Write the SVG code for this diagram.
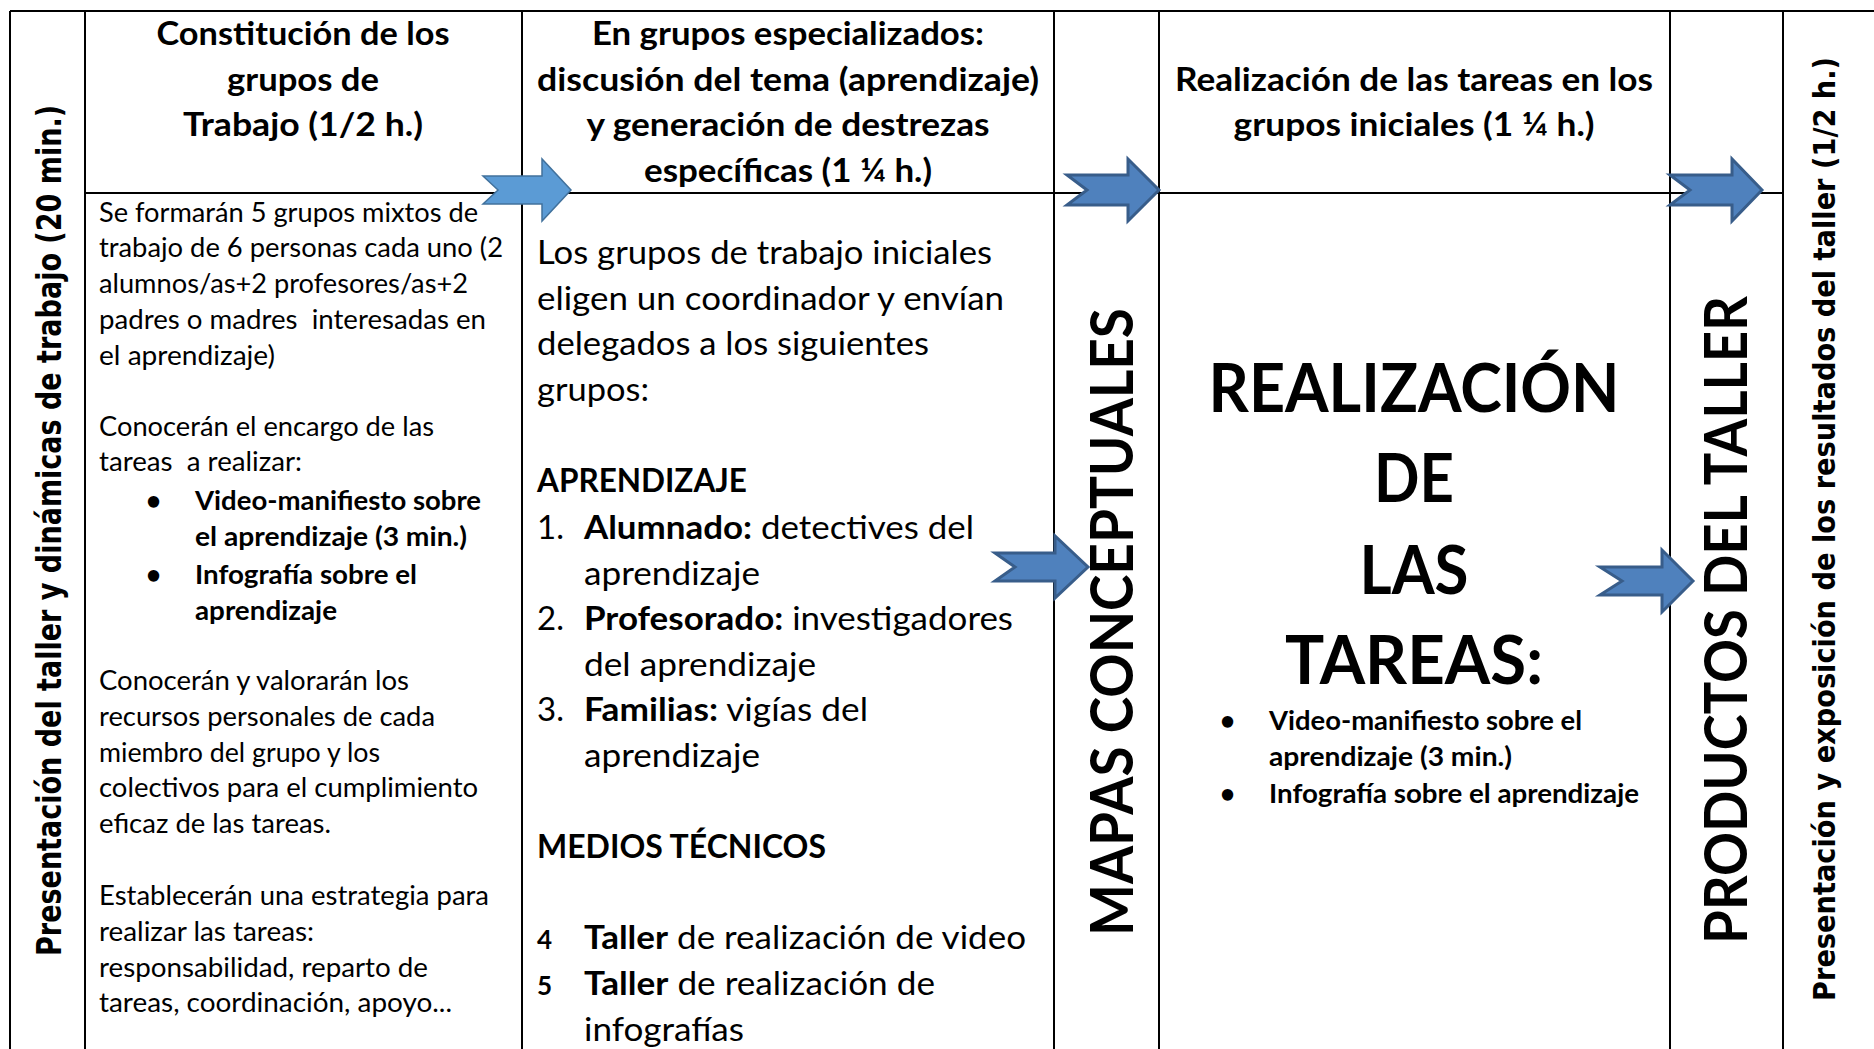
<svg xmlns="http://www.w3.org/2000/svg" width="1874" height="1049" viewBox="0 0 1874 1049">
<style>
.ln{stroke:#000;stroke-width:2;fill:none}
.t{font-family:Lato,"Liberation Sans",sans-serif;fill:#000}
.b{font-weight:bold}
.v{font-family:"DejaVu Sans Condensed","DejaVu Sans",Verdana,sans-serif;font-stretch:condensed;font-weight:bold;fill:#000;font-size:33px}
.v2{font-size:31px}
.s11{font-size:26px}
.s14{font-size:33px}
.s28{font-size:67px}
.s24{font-size:59px}
.arL{fill:#5B9BD5;stroke:#41719C;stroke-width:1.5}
.arD{fill:#4F81BD;stroke:#385D8A;stroke-width:3}
</style>
<rect width="1874" height="1049" fill="#fff"/>
<g id="grid">
<line class="ln" x1="10" y1="11" x2="1874" y2="11"/>
<line class="ln" x1="10" y1="11" x2="10" y2="1049"/>
<line class="ln" x1="85" y1="11" x2="85" y2="1049"/>
<line class="ln" x1="522" y1="11" x2="522" y2="1049"/>
<line class="ln" x1="1054" y1="11" x2="1054" y2="1049"/>
<line class="ln" x1="1159" y1="11" x2="1159" y2="1049"/>
<line class="ln" x1="1670" y1="11" x2="1670" y2="1049"/>
<line class="ln" x1="1783" y1="11" x2="1783" y2="1049"/>
<line class="ln" x1="85" y1="193" x2="1783" y2="193"/>
</g>
<g id="n-presentacion">
<text class="v" transform="translate(61,956) rotate(-90)" textLength="851" lengthAdjust="spacingAndGlyphs">Presentación del taller y dinámicas de trabajo (20 min.)</text>
</g>
<g id="n-constitucion">
<text class="t b s14" x="303" y="45" text-anchor="middle" textLength="293" lengthAdjust="spacingAndGlyphs">Constitución de los</text>
<text class="t b s14" x="303" y="90.5" text-anchor="middle" textLength="152" lengthAdjust="spacingAndGlyphs">grupos de</text>
<text class="t b s14" x="303" y="136" text-anchor="middle" textLength="240" lengthAdjust="spacingAndGlyphs">Trabajo (1/2 h.)</text>
<text class="t s11" x="99" y="221.5" textLength="379" lengthAdjust="spacingAndGlyphs">Se formarán 5 grupos mixtos de</text>
<text class="t s11" x="99" y="257.3" textLength="404" lengthAdjust="spacingAndGlyphs">trabajo de 6 personas cada uno (2</text>
<text class="t s11" x="99" y="293" textLength="369" lengthAdjust="spacingAndGlyphs">alumnos/as+2 profesores/as+2</text>
<text class="t s11" x="99" y="328.8" textLength="387" lengthAdjust="spacingAndGlyphs" xml:space="preserve">padres o madres  interesadas en</text>
<text class="t s11" x="99" y="364.6" textLength="176" lengthAdjust="spacingAndGlyphs">el aprendizaje)</text>
<text class="t s11" x="99" y="435.5" textLength="335" lengthAdjust="spacingAndGlyphs">Conocerán el encargo de las</text>
<text class="t s11" x="99" y="471.3" textLength="203" lengthAdjust="spacingAndGlyphs" xml:space="preserve">tareas  a realizar:</text>
<text class="t b s11" x="146" y="509.5">•</text>
<text class="t b s11" x="195" y="509.5" textLength="286" lengthAdjust="spacingAndGlyphs">Video-manifiesto sobre</text>
<text class="t b s11" x="195" y="545.5" textLength="272" lengthAdjust="spacingAndGlyphs">el aprendizaje (3 min.)</text>
<text class="t b s11" x="146" y="583.5">•</text>
<text class="t b s11" x="195" y="583.5" textLength="222" lengthAdjust="spacingAndGlyphs">Infografía sobre el</text>
<text class="t b s11" x="195" y="619.5" textLength="142" lengthAdjust="spacingAndGlyphs">aprendizaje</text>
<text class="t s11" x="99" y="690" textLength="310" lengthAdjust="spacingAndGlyphs">Conocerán y valorarán los</text>
<text class="t s11" x="99" y="725.8" textLength="336" lengthAdjust="spacingAndGlyphs">recursos personales de cada</text>
<text class="t s11" x="99" y="761.6" textLength="281" lengthAdjust="spacingAndGlyphs">miembro del grupo y los</text>
<text class="t s11" x="99" y="797.4" textLength="379" lengthAdjust="spacingAndGlyphs">colectivos para el cumplimiento</text>
<text class="t s11" x="99" y="833.2" textLength="232" lengthAdjust="spacingAndGlyphs">eficaz de las tareas.</text>
<text class="t s11" x="99" y="905" textLength="390" lengthAdjust="spacingAndGlyphs">Establecerán una estrategia para</text>
<text class="t s11" x="99" y="940.8" textLength="215" lengthAdjust="spacingAndGlyphs">realizar las tareas:</text>
<text class="t s11" x="99" y="976.6" textLength="329" lengthAdjust="spacingAndGlyphs">responsabilidad, reparto de</text>
<text class="t s11" x="99" y="1012.4" textLength="353" lengthAdjust="spacingAndGlyphs">tareas, coordinación, apoyo...</text>
</g>
<g id="n-especializados">
<text class="t b s14" x="788" y="45" text-anchor="middle" textLength="392" lengthAdjust="spacingAndGlyphs">En grupos especializados:</text>
<text class="t b s14" x="788" y="90.5" text-anchor="middle" textLength="502" lengthAdjust="spacingAndGlyphs">discusión del tema (aprendizaje)</text>
<text class="t b s14" x="788" y="136" text-anchor="middle" textLength="403" lengthAdjust="spacingAndGlyphs">y generación de destrezas</text>
<text class="t b s14" x="788" y="181.5" text-anchor="middle" textLength="288" lengthAdjust="spacingAndGlyphs">específicas (1 ¼ h.)</text>
<text class="t s14" x="537" y="264" textLength="455" lengthAdjust="spacingAndGlyphs">Los grupos de trabajo iniciales</text>
<text class="t s14" x="537" y="309.5" textLength="467" lengthAdjust="spacingAndGlyphs">eligen un coordinador y envían</text>
<text class="t s14" x="537" y="355" textLength="392" lengthAdjust="spacingAndGlyphs">delegados a los siguientes</text>
<text class="t s14" x="537" y="400.5" textLength="112" lengthAdjust="spacingAndGlyphs">grupos:</text>
<text class="t b s14" x="537" y="492" textLength="210" lengthAdjust="spacingAndGlyphs">APRENDIZAJE</text>
<text class="t s14" x="537" y="539">1.</text>
<text class="t s14" x="584" y="539" textLength="390" lengthAdjust="spacingAndGlyphs"><tspan class="b">Alumnado:</tspan> detectives del</text>
<text class="t s14" x="584" y="584.5" textLength="176" lengthAdjust="spacingAndGlyphs">aprendizaje</text>
<text class="t s14" x="537" y="630">2.</text>
<text class="t s14" x="584" y="630" textLength="429" lengthAdjust="spacingAndGlyphs"><tspan class="b">Profesorado:</tspan> investigadores</text>
<text class="t s14" x="584" y="675.5" textLength="232" lengthAdjust="spacingAndGlyphs">del aprendizaje</text>
<text class="t s14" x="537" y="721">3.</text>
<text class="t s14" x="584" y="721" textLength="284" lengthAdjust="spacingAndGlyphs"><tspan class="b">Familias:</tspan> vigías del</text>
<text class="t s14" x="584" y="766.5" textLength="176" lengthAdjust="spacingAndGlyphs">aprendizaje</text>
<text class="t b s14" x="537" y="858" textLength="289" lengthAdjust="spacingAndGlyphs">MEDIOS TÉCNICOS</text>
<text class="t b s11" x="537" y="949">4</text>
<text class="t s14" x="584" y="949" textLength="442" lengthAdjust="spacingAndGlyphs"><tspan class="b">Taller</tspan> de realización de video</text>
<text class="t b s11" x="537" y="995">5</text>
<text class="t s14" x="584" y="995" textLength="351" lengthAdjust="spacingAndGlyphs"><tspan class="b">Taller</tspan> de realización de</text>
<text class="t s14" x="584" y="1041" textLength="160" lengthAdjust="spacingAndGlyphs">infografías</text>
</g>
<g id="n-mapas">
<text class="t b s24" transform="translate(1133,936) rotate(-90)" textLength="628" lengthAdjust="spacingAndGlyphs">MAPAS CONCEPTUALES</text>
</g>
<g id="n-realizacion">
<text class="t b s14" x="1414" y="90.5" text-anchor="middle" textLength="478" lengthAdjust="spacingAndGlyphs">Realización de las tareas en los</text>
<text class="t b s14" x="1414" y="136" text-anchor="middle" textLength="361" lengthAdjust="spacingAndGlyphs">grupos iniciales (1 ¼ h.)</text>
<text class="t b s28" x="1414" y="412" text-anchor="middle" textLength="411" lengthAdjust="spacingAndGlyphs">REALIZACIÓN</text>
<text class="t b s28" x="1414" y="502" text-anchor="middle" textLength="80" lengthAdjust="spacingAndGlyphs">DE</text>
<text class="t b s28" x="1414" y="594" text-anchor="middle" textLength="109" lengthAdjust="spacingAndGlyphs">LAS</text>
<text class="t b s28" x="1414" y="684" text-anchor="middle" textLength="258" lengthAdjust="spacingAndGlyphs">TAREAS:</text>
<text class="t b s11" x="1220" y="730">•</text>
<text class="t b s11" x="1269" y="730" textLength="313" lengthAdjust="spacingAndGlyphs">Video-manifiesto sobre el</text>
<text class="t b s11" x="1269" y="766" textLength="243" lengthAdjust="spacingAndGlyphs">aprendizaje (3 min.)</text>
<text class="t b s11" x="1220" y="803">•</text>
<text class="t b s11" x="1269" y="803" textLength="370" lengthAdjust="spacingAndGlyphs">Infografía sobre el aprendizaje</text>
</g>
<g id="n-productos">
<text class="t b s24" transform="translate(1747,944) rotate(-90)" textLength="648" lengthAdjust="spacingAndGlyphs">PRODUCTOS DEL TALLER</text>
</g>
<g id="n-exposicion">
<text class="v v2" transform="translate(1835,1001) rotate(-90)" textLength="944" lengthAdjust="spacingAndGlyphs">Presentación y exposición de los resultados del taller (1/2 h.)</text>
</g>
<g id="connectors">
<polygon class="arL" points="483,176 542,176 542,159 571,190 542,221 542,204 483,204 498,190"/>
<polygon class="arD" points="1067,175 1128,175 1128,159 1159,190 1128,221 1128,205 1067,205 1087,190"/>
<polygon class="arD" points="995,553 1055,553 1055,536 1088,567 1055,598 1055,581 995,581 1015,567"/>
<polygon class="arD" points="1600,567 1662,567 1662,550 1693,581 1662,612 1662,595 1600,595 1622,581"/>
<polygon class="arD" points="1670,175 1732,175 1732,159 1762,190 1732,221 1732,205 1670,205 1690,190"/>
</g>
</svg>
